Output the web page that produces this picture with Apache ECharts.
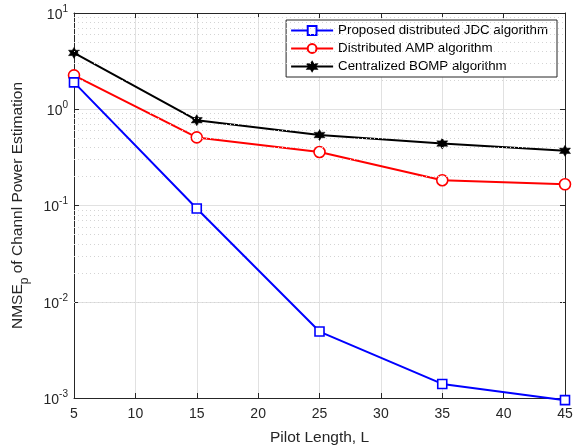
<!DOCTYPE html>
<html>
<head>
<meta charset="utf-8">
<script src="https://cdn.jsdelivr.net/npm/echarts@6/dist/echarts.min.js"></script>
<style>
  html, body { margin: 0; padding: 0; background: #fff; }
  #chart { width: 573px; height: 447px; }
</style>
</head>
<body>
<div id="chart"></div>
<script>
// pilot length
var pilotLen = [5, 15, 25, 35, 45];
// NMSE_p values
var jdcVals = [1.9, 0.093, 0.0049, 0.0014, 0.00095];
var ampVals = [2.25, 0.51, 0.36, 0.183, 0.166];
var bompVals = [3.85, 0.77, 0.54, 0.44, 0.37];
var xTicks = [5, 10, 15, 20, 25, 30, 35, 40, 45];
var decades = [-3, -2, -1, 0];
var minorMult = [2, 3, 4, 5, 6, 7, 8, 9];

var axisCol = '#262626';
var font = 'Liberation Sans, Arial, Helvetica, sans-serif';
// chunky 6-point star for the '*' marker
var starPath = 'path://M10,0 L12.75,5.24 L18.66,5 L15.5,10 L18.66,15 L12.75,14.76 L10,20 L7.25,14.76 L1.34,15 L4.5,10 L1.34,5 L7.25,5.24 Z';

function pairs(vals) {
  return pilotLen.map(function (x, i) { return [x, vals[i]]; });
}

// minor grid (2..9 x 10^k) for the log axis
var minorLines = [];
decades.forEach(function (d) {
  minorMult.forEach(function (m) {
    minorLines.push({ yAxis: m * Math.pow(10, d) });
  });
});

var chart = echarts.init(document.getElementById('chart'));
var option = {
  animation: false,
  textStyle: { fontFamily: font },
  grid: { left: 74, right: 8, top: 13, bottom: 49, containLabel: false, outerBoundsMode: 'none' },
  legend: {
    data: ['Proposed distributed JDC algorithm', 'Distributed AMP algorithm', 'Centralized BOMP algorithm'],
    orient: 'vertical',
    right: 16,
    top: 20,
    itemWidth: 42,
    itemHeight: 11,
    itemGap: 5,
    padding: [4, 9, 4, 4],
    backgroundColor: '#fff',
    borderColor: axisCol,
    borderWidth: 1,
    borderRadius: 0,
    textStyle: { fontSize: 13.3, color: '#000', fontFamily: font }
  },
  xAxis: [{
    type: 'value',
    min: 5,
    max: 45,
    interval: 5,
    name: 'Pilot Length, L',
    nameLocation: 'middle',
    nameGap: 32,
    nameTextStyle: { fontSize: 15.5, color: axisCol, fontFamily: font },
    axisLine: { lineStyle: { color: axisCol, width: 1 } },
    axisTick: { inside: true, length: 5, lineStyle: { color: axisCol } },
    axisLabel: { fontSize: 14, color: axisCol, margin: 9, fontFamily: font },
    splitLine: { show: true, lineStyle: { color: '#e1e1e1', width: 1 } }
  }, {
    type: 'value',
    position: 'top',
    min: 5,
    max: 45,
    interval: 5,
    axisLine: { show: true, lineStyle: { color: axisCol, width: 1 } },
    axisTick: { inside: true, length: 5, lineStyle: { color: axisCol } },
    axisLabel: { show: false },
    splitLine: { show: false }
  }],
  yAxis: [{
    type: 'log',
    logBase: 10,
    min: 0.001,
    max: 10,
    name: '{a|NMSE}{s|p}{a| of Channl Power Estimation}',
    nameLocation: 'middle',
    nameGap: 43,
    nameTextStyle: {
      color: axisCol,
      fontFamily: font,
      rich: {
        a: { fontSize: 15.5, color: axisCol, fontFamily: font, lineHeight: 26, verticalAlign: 'middle' },
        s: { fontSize: 12, color: axisCol, fontFamily: font, lineHeight: 26, verticalAlign: 'bottom' }
      }
    },
    axisLine: { show: true, lineStyle: { color: axisCol, width: 1 } },
    axisTick: { inside: true, length: 5, lineStyle: { color: axisCol } },
    axisLabel: {
      margin: 6,
      formatter: function (v) {
        var e = Math.round(Math.log10(v));
        return '{b|10}{e|' + e + '}';
      },
      rich: {
        b: { fontSize: 14, color: axisCol, fontFamily: font, lineHeight: 18, verticalAlign: 'bottom' },
        e: { fontSize: 10, color: axisCol, fontFamily: font, lineHeight: 18, verticalAlign: 'top' }
      }
    },
    splitLine: { show: true, lineStyle: { color: '#e1e1e1', width: 1 } }
  }, {
    type: 'log',
    logBase: 10,
    min: 0.001,
    max: 10,
    position: 'right',
    axisLine: { show: true, lineStyle: { color: axisCol, width: 1 } },
    axisTick: { inside: true, length: 5, lineStyle: { color: axisCol } },
    axisLabel: { show: false },
    splitLine: { show: false }
  }],
  series: [{
    name: 'minor',
    type: 'line',
    data: [],
    silent: true,
    z: 1,
    markLine: {
      silent: true,
      symbol: 'none',
      label: { show: false },
      animation: false,
      lineStyle: { color: '#d4d4d4', type: [1, 3], width: 1 },
      data: minorLines
    }
  }, {
    name: 'Proposed distributed JDC algorithm',
    type: 'line',
    data: pairs(jdcVals),
    color: '#0000ff',
    symbol: 'rect',
    symbolSize: 9,
    clip: false,
    lineStyle: { width: 2, color: '#0000ff' },
    itemStyle: { color: '#fff', borderColor: '#0000ff', borderWidth: 1.6 },
    z: 5
  }, {
    name: 'Distributed AMP algorithm',
    type: 'line',
    data: pairs(ampVals),
    color: '#ff0000',
    symbol: 'circle',
    symbolSize: 11,
    clip: false,
    lineStyle: { width: 2, color: '#ff0000' },
    itemStyle: { color: '#fff', borderColor: '#ff0000', borderWidth: 1.6 },
    z: 4
  }, {
    name: 'Centralized BOMP algorithm',
    type: 'line',
    data: pairs(bompVals),
    color: '#000',
    symbol: starPath,
    symbolSize: 11,
    clip: false,
    lineStyle: { width: 2, color: '#000' },
    itemStyle: { color: '#000', borderColor: '#000', borderWidth: 0.5 },
    z: 3
  }]
};
chart.setOption(option);
</script>
</body>
</html>
